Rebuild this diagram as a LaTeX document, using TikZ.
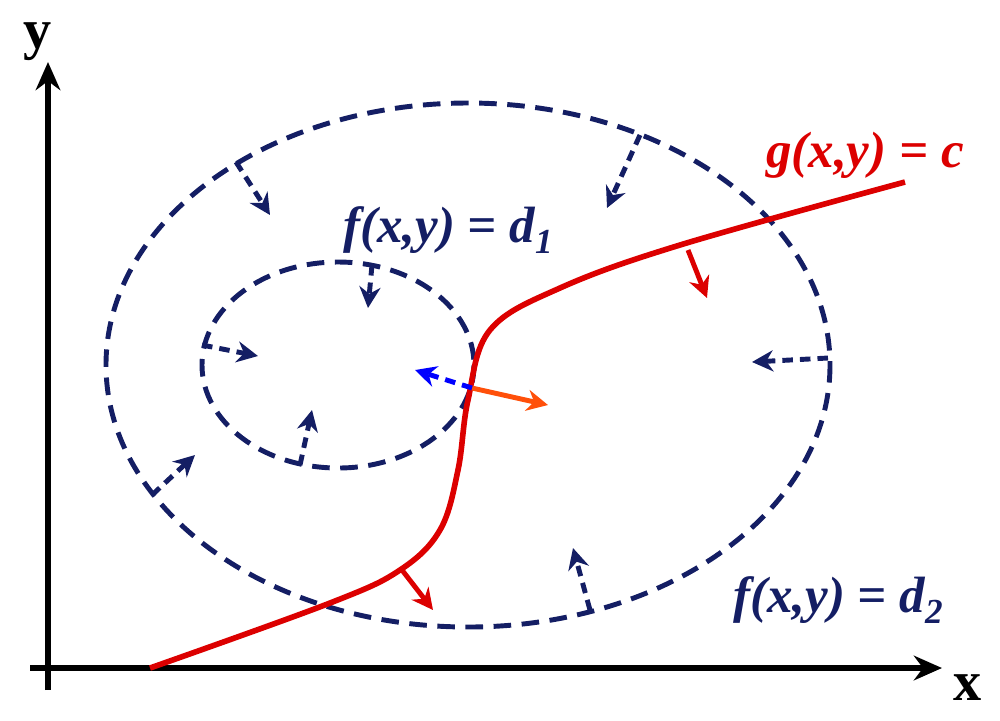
\documentclass[tikz,border=0pt]{standalone}
\usepackage{fontspec}
\setmainfont{Liberation Serif}
\usetikzlibrary{arrows.meta}
\definecolor{navy}{RGB}{20,30,100}
\definecolor{rd}{RGB}{220,0,0}
\definecolor{org}{RGB}{255,80,10}
\newcommand{\lowsub}[1]{\raisebox{-0.45ex}{\fontsize{10}{12}\selectfont #1}}
\begin{document}
\begin{tikzpicture}[x=0.01cm,y=-0.01cm,
  lvl/.style={navy,line width=1.4pt,dash pattern=on 5pt off 3pt},
  nar/.style={navy,line width=1.4pt,dash pattern=on 3pt off 2pt,-{Stealth[length=6pt,width=6pt]}},
  rar/.style={rd,line width=1.4pt,-{Stealth[length=6pt,width=6pt]}},
  lab/.style={font=\fontsize{14.5}{16}\selectfont\bfseries\itshape}]
\useasboundingbox (0,0) rectangle (1000,720);
\coordinate (xs) at (30,668); \coordinate (xe) at (942,668);
\coordinate (ys) at (48,690); \coordinate (ye) at (48,62);
\draw[line width=1.5pt,-{Stealth[length=8pt,width=7pt]}] (xs) -- (xe);
\draw[line width=1.5pt,-{Stealth[length=8pt,width=7pt]}] (ys) -- (ye);
\node[font=\fontsize{16}{18}\selectfont\bfseries] (ly) at (38,42) {y};
\node[font=\fontsize{16}{18}\selectfont\bfseries] (lx) at (968,688) {x};
\draw[lvl] (468,365) ellipse [x radius=362, y radius=262];
\draw[lvl] (338,365) ellipse [x radius=136, y radius=103];
\draw[rd,line width=1.6pt] plot[smooth,tension=0.6] coordinates {(150,668) (330,603) (400,570) (440,530) (458,470) (468,400) (490,330) (560,288) (680,245) (905,182)};
\draw[nar] (236,162) -- (270,215);
\draw[nar] (640,135) -- (607,208);
\draw[nar] (828,358) -- (752,362);
\draw[nar] (590,610) -- (573,548);
\draw[nar] (152,495) -- (195,455);
\draw[nar] (202,345) -- (258,356);
\draw[nar] (372,265) -- (368,308);
\draw[nar] (300,465) -- (312,410);
\draw[rar] (688,250) -- (707,298);
\draw[rar] (402,570) -- (433,610);
\coordinate (p) at (472,388);
\draw[rar,org] (p) -- (548,405);
\draw[nar,blue] (p) -- (415,370);
\node[lab,navy] (d1) at (448,230) {f(x,y) = d\lowsub{1}};
\node[lab,navy] (d2) at (838,600) {f(x,y) = d\lowsub{2}};
\node[lab,rd] (gc) at (865,155) {g(x,y) = c};
\end{tikzpicture}
\end{document}
